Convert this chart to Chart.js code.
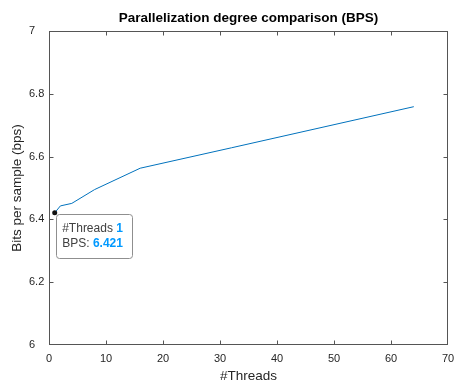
<!DOCTYPE html>
<html>
<head>
<meta charset="utf-8">
<script src="https://cdn.jsdelivr.net/npm/chart.js@4.4.0/dist/chart.umd.min.js"></script>
<style>
  html, body { margin: 0; padding: 0; background: #fff; }
  #wrap { width: 454px; height: 382px; }
</style>
</head>
<body>
<div id="wrap"><canvas id="chart" width="454" height="382"></canvas></div>
<script>
// values
const threads = [1, 2, 4, 8, 16, 32, 64]
const bps     = [6.421, 6.443, 6.451, 6.495, 6.563, 6.628, 6.759]

const xRange = [0, 70]
const yRange = [6, 7]

const TITLE   = "Parallelization degree comparison (BPS)"
const X_TITLE = "#Threads"
const Y_TITLE = "Bits per sample (bps)"

// data tip on the first point, like the MATLAB datatip
const tipIndex = 0

const FONT = "'Liberation Sans', Arial, Helvetica, sans-serif"
const AXIS_COLOR = "#262626"

// frame + inward ticks on all four sides (box on), plus the titles
const matlabAxes = {
  id: "matlabAxes",
  afterDraw(chart) {
    const { ctx, chartArea: a, scales } = chart
    const L = Math.round(a.left) + 0.5, R = Math.round(a.right) - 0.5
    const T = Math.round(a.top) + 0.5, B = Math.round(a.bottom) - 0.5
    const tick = 4

    ctx.save()
    ctx.strokeStyle = "#555"
    ctx.lineWidth = 1
    ctx.strokeRect(L, T, R - L, B - T)

    ctx.beginPath()
    for (const t of scales.x.ticks) {
      const px = Math.round(scales.x.getPixelForValue(t.value)) + 0.5
      if (px <= L + 1 || px >= R - 1) continue
      ctx.moveTo(px, B); ctx.lineTo(px, B - tick)
      ctx.moveTo(px, T); ctx.lineTo(px, T + tick)
    }
    for (const t of scales.y.ticks) {
      const py = Math.round(scales.y.getPixelForValue(t.value)) + 0.5
      if (py <= T + 1 || py >= B - 1) continue
      ctx.moveTo(L, py); ctx.lineTo(L + tick, py)
      ctx.moveTo(R, py); ctx.lineTo(R - tick, py)
    }
    ctx.stroke()

    // titles
    const cx = (a.left + a.right) / 2
    ctx.fillStyle = "#000"
    ctx.textAlign = "center"
    ctx.textBaseline = "middle"
    ctx.font = "bold 13.5px " + FONT
    ctx.fillText(TITLE, cx, 18.5)

    ctx.fillStyle = AXIS_COLOR
    ctx.font = "13.5px " + FONT
    ctx.fillText(X_TITLE, cx, 376.5)

    ctx.translate(17, (a.top + a.bottom) / 2)
    ctx.rotate(-Math.PI / 2)
    ctx.fillText(Y_TITLE, 0, 0)
    ctx.restore()
  },
}

const dataTip = {
  id: "dataTip",
  afterDatasetsDraw(chart) {
    const { ctx, scales } = chart
    const px = scales.x.getPixelForValue(threads[tipIndex])
    const py = scales.y.getPixelForValue(bps[tipIndex])

    ctx.save()
    // box
    const bx = px + 1.5, by = py + 1, bw = 76, bh = 44, r = 3
    ctx.beginPath()
    ctx.roundRect(Math.round(bx) + 0.5, Math.round(by) + 0.5, bw, bh, r)
    ctx.fillStyle = "rgba(255,255,255,0.95)"
    ctx.fill()
    ctx.strokeStyle = "#8f8f8f"
    ctx.lineWidth = 1
    ctx.stroke()

    // marker
    ctx.beginPath()
    ctx.arc(px, py, 2.5, 0, Math.PI * 2)
    ctx.fillStyle = "#111"
    ctx.fill()

    // text
    const tx = px + 7.5
    ctx.textAlign = "left"
    ctx.textBaseline = "middle"
    const lines = [
      ["#Threads ", String(threads[tipIndex])],
      ["BPS: ", bps[tipIndex].toFixed(3)],
    ]
    lines.forEach(([label, value], i) => {
      const ty = py + 16 + i * 14.7
      ctx.font = "12px " + FONT
      ctx.fillStyle = "#404040"
      ctx.fillText(label, tx, ty)
      const w = ctx.measureText(label).width
      ctx.font = "bold 12px " + FONT
      ctx.fillStyle = "#0099ff"
      ctx.fillText(value, tx + w, ty)
    })
    ctx.restore()
  },
}

new Chart(document.getElementById("chart"), {
  type: "line",
  data: {
    datasets: [{
      label: "BPS",
      data: threads.map((t, i) => ({ x: t, y: bps[i] })),
      borderColor: "#0072bd",
      borderWidth: 1,
      pointRadius: 0,
      tension: 0,
      fill: false,
    }],
  },
  options: {
    responsive: false,
    animation: false,
    devicePixelRatio: 1,
    layout: { padding: { left: 29, top: 31, right: 6, bottom: 0 } },
    plugins: {
      legend: { display: false },
      title: { display: false },
      tooltip: { enabled: false },
    },
    scales: {
      x: {
        type: "linear",
        min: xRange[0],
        max: xRange[1],
        border: { display: false },
        grid: { display: false, drawTicks: false },
        ticks: {
          stepSize: 10,
          padding: 7,
          maxRotation: 0,
          color: AXIS_COLOR,
          font: { family: FONT, size: 11 },
        },
        afterFit(scale) {
          scale.height = 37
          scale.paddingLeft = 0
          scale.paddingRight = 0
        },
      },
      y: {
        min: yRange[0],
        max: yRange[1],
        border: { display: false },
        grid: { display: false, drawTicks: false },
        ticks: {
          stepSize: 0.2,
          crossAlign: "far",
          color: AXIS_COLOR,
          font: { family: FONT, size: 11 },
          callback: (v) => +v.toFixed(1),
        },
        afterFit(scale) {
          scale.width = 20
          scale.paddingTop = 0
          scale.paddingBottom = 0
        },
      },
    },
  },
  plugins: [matlabAxes, dataTip],
})
</script>
</body>
</html>
